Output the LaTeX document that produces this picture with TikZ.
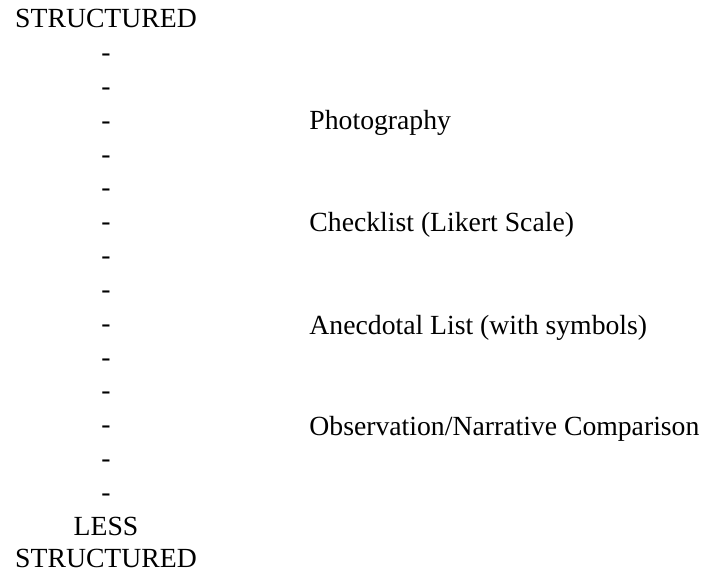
\documentclass[tikz,border=0pt]{standalone}
\usepackage{fontspec}
\setmainfont{Liberation Serif}

\begin{document}
\begin{tikzpicture}[x=0.4333pt, y=-0.4333pt,
    every node/.style={inner sep=0pt, anchor=base, font=\fontsize{12}{14}\selectfont},
    method/.style={anchor=base west}]

\useasboundingbox (0, 0) rectangle (707, 571);

\node (top) at (106, 28) {STRUCTURED};

\foreach \i in {1,...,14}{
    \node (d\i) at (106, 28+33.8*\i) {-};
}

\node (less) at (106, 535) {LESS};
\node (bottom) at (106, 567) {STRUCTURED};

\node[method] (photo) at (309, 130) {Photography};
\node[method] (check) at (309, 232) {Checklist (Likert Scale)};
\node[method] (anec) at (309, 334) {Anecdotal List (with symbols)};
\node[method] (obs) at (309, 435) {Observation/Narrative Comparison};

\end{tikzpicture}
\end{document}
